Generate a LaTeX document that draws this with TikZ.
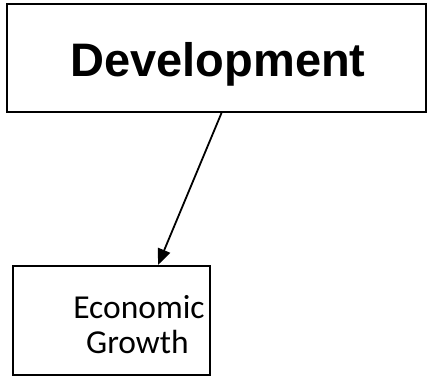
\documentclass[tikz,border=0pt]{standalone}
\usepackage{fontspec}
\setmainfont{Liberation Sans}
\newfontfamily\calfont{Carlito}
\usetikzlibrary{arrows.meta}
\begin{document}
\begin{tikzpicture}[x=1pt,y=-1pt,
  boxstyle/.style={draw=black,line width=2pt,fill=white},
  conn/.style={line width=1.8pt,-{Triangle[length=16pt,width=13pt]}}]
\useasboundingbox (0,0) rectangle (428,381);
\draw[boxstyle] (7,3.5) rectangle (425.5,112) node[pos=0,inner sep=0] (topbox) {};
\node[anchor=base,inner sep=0,font=\fontsize{47}{50}\selectfont\bfseries] (dev) at (218,76) {Development};
\draw[boxstyle] (13,266) rectangle (210,375) node[pos=0,inner sep=0] (botbox) {};
\node[anchor=base,inner sep=0,font=\calfont\fontsize{33.5}{36}\selectfont] (eco) at (139,318) {Economic};
\node[anchor=base,inner sep=0,font=\calfont\fontsize{33.5}{36}\selectfont] (gro) at (137.5,353) {Growth};
\coordinate (s) at (221.5,113);
\coordinate (e) at (158,265);
\draw[conn] (s) -- (e);
\end{tikzpicture}
\end{document}
